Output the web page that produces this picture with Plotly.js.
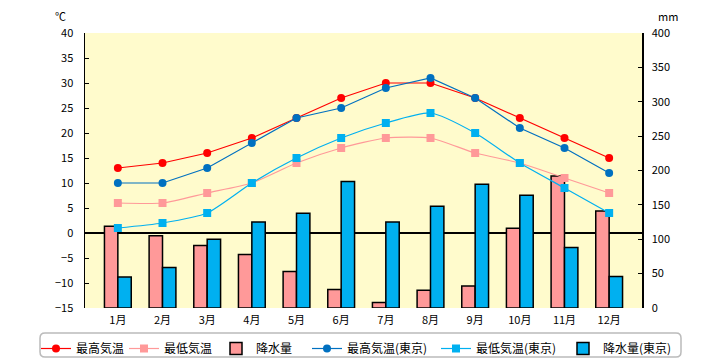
<!DOCTYPE html>
<html>
<head>
<meta charset="utf-8">
<script src="https://cdn.plot.ly/plotly-3.0.1.min.js"></script>
<style>html,body{margin:0;padding:0;background:#fff;}#chart{width:720px;height:360px;}</style>
</head>
<body>
<div id="chart"></div>
<script>
const months = ["1月","2月","3月","4月","5月","6月","7月","8月","9月","10月","11月","12月"];
const maxTemp = [13,14,16,19,23,27,30,30,27,23,19,15];
const minTemp = [6,6,8,10,14,17,19,19,16,14,11,8];
const rain = [119,105,91,78,53,27,8,26,32,116,192,141];
const maxTempTokyo = [10,10,13,18,23,25,29,31,27,21,17,12];
const minTempTokyo = [1,2,4,10,15,19,22,24,20,14,9,4];
const rainTokyo = [45,59,100,125,138,184,125,148,180,164,88,46];

const seriesNames = ["最高気温","最低気温","降水量","最高気温(東京)","最低気温(東京)","降水量(東京)"];
const FONT = '"Noto Sans CJK JP", "DejaVu Sans", sans-serif';

const traces = [
  {type:'scatter', mode:'lines+markers', name:seriesNames[0], x:months, y:maxTemp, yaxis:'y2', legendwidth:43,
   line:{color:'#FF0000', width:1.2}, marker:{symbol:'circle', size:8, color:'#FF0000'}},
  {type:'scatter', mode:'lines+markers', name:seriesNames[1], x:months, y:minTemp, yaxis:'y2', legendwidth:47,
   line:{color:'#FF9999', width:1.2, shape:'spline', smoothing:0.6}, marker:{symbol:'square', size:8, color:'#FF9999'}},
  {type:'bar', name:seriesNames[2], x:months, y:rain, yaxis:'y', legendwidth:46,
   marker:{color:'#FF9999', line:{color:'#000000', width:1.5}}},
  {type:'scatter', mode:'lines+markers', name:seriesNames[3], x:months, y:maxTempTokyo, yaxis:'y2', legendwidth:84,
   line:{color:'#0070C0', width:1.2}, marker:{symbol:'circle', size:8, color:'#0070C0'}},
  {type:'scatter', mode:'lines+markers', name:seriesNames[4], x:months, y:minTempTokyo, yaxis:'y2', legendwidth:82,
   line:{color:'#00B0F0', width:1.2, shape:'spline', smoothing:0.6}, marker:{symbol:'square', size:8, color:'#00B0F0'}},
  {type:'bar', name:seriesNames[5], x:months, y:rainTokyo, yaxis:'y', legendwidth:66,
   marker:{color:'#00B0F0', line:{color:'#000000', width:1.5}}}
];

// rounded legend box (paper coords from pixel positions)
function px2x(p){return (p-85)/557;}
function px2y(p){return (308-p)/275;}
const L=40,R=681,T=333,B=357,rr=5;
const legendPath = `M ${px2x(L+rr)},${px2y(T)} L ${px2x(R-rr)},${px2y(T)} Q ${px2x(R)},${px2y(T)} ${px2x(R)},${px2y(T+rr)} L ${px2x(R)},${px2y(B-rr)} Q ${px2x(R)},${px2y(B)} ${px2x(R-rr)},${px2y(B)} L ${px2x(L+rr)},${px2y(B)} Q ${px2x(L)},${px2y(B)} ${px2x(L)},${px2y(B-rr)} L ${px2x(L)},${px2y(T+rr)} Q ${px2x(L)},${px2y(T)} ${px2x(L+rr)},${px2y(T)} Z`;

const layout = {
  width:720, height:360,
  margin:{l:85, r:78, t:33, b:52, autoexpand:false},
  paper_bgcolor:'#FFFFFF',
  plot_bgcolor:'#FFFBCC',
  font:{family:FONT, size:11, color:'#000000'},
  showlegend:true,
  barmode:'group',
  bargap:0.4,
  bargroupgap:0,
  xaxis:{type:'category', showgrid:false, zeroline:false, showline:false, ticks:'',
         tickfont:{family:FONT, size:11}, ticklabelstandoff:4, automargin:false},
  yaxis:{side:'right', range:[0,400], dtick:50, showgrid:false, zeroline:false,
         showline:true, linecolor:'#000000', linewidth:1.5, ticks:'inside', ticklen:4, tickcolor:'#000000',
         tickfont:{family:FONT, size:11}, ticklabelstandoff:6, automargin:false},
  yaxis2:{side:'left', overlaying:'y', range:[-15,40], dtick:5, showgrid:false,
          zeroline:true, zerolinecolor:'#000000', zerolinewidth:1.5,
          showline:true, linecolor:'#000000', linewidth:1.5, ticks:'inside', ticklen:4, tickcolor:'#000000',
          tickfont:{family:FONT, size:11}, ticklabelstandoff:8, automargin:false},
  legend:{orientation:'h', xref:'paper', yref:'paper', x:px2x(36), xanchor:'left',
          y:px2y(334), yanchor:'top',
          font:{family:FONT, size:12}, bgcolor:'rgba(0,0,0,0)', borderwidth:0,
          traceorder:'normal', itemwidth:30, tracegroupgap:0},
  shapes:[{type:'path', xref:'paper', yref:'paper', path:legendPath,
           line:{color:'#BBBBBB', width:1.5}, fillcolor:'rgba(0,0,0,0)', layer:'below'}],
  annotations:[
    {text:'℃', xref:'paper', yref:'paper', x:px2x(60), y:px2y(16), showarrow:false, xanchor:'center', yanchor:'middle', font:{family:FONT, size:11}},
    {text:'mm', xref:'paper', yref:'paper', x:px2x(668), y:px2y(16), showarrow:false, xanchor:'center', yanchor:'middle', font:{family:FONT, size:11}}
  ]
};

Plotly.newPlot('chart', traces, layout, {staticPlot:true, displayModeBar:false});
</script>
</body>
</html>
